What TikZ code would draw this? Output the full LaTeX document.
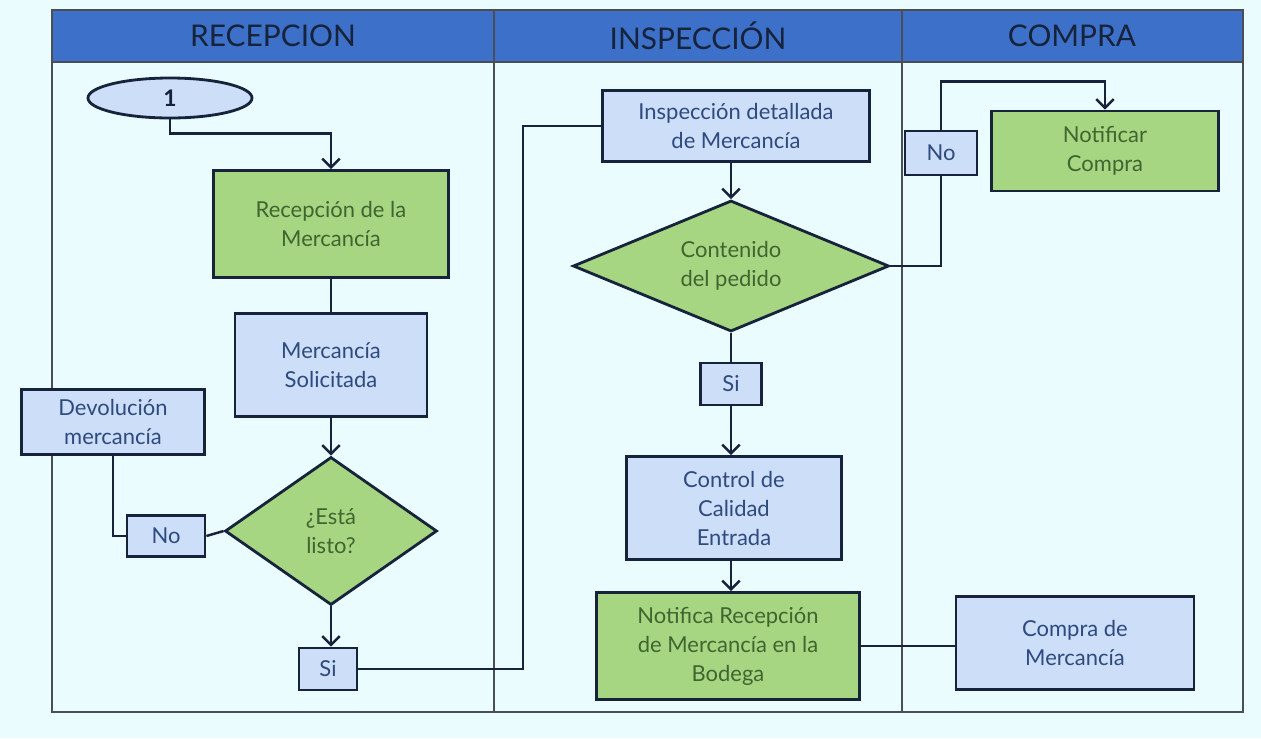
\documentclass[tikz,border=0pt]{standalone}
\usepackage{fontspec}
\setmainfont{Lato}
\usetikzlibrary{shapes.geometric,arrows.meta}
\definecolor{bg}{HTML}{EAFCFD}
\definecolor{head}{HTML}{3D70C9}
\definecolor{navy}{HTML}{16233A}
\definecolor{boxblue}{HTML}{CCDEF8}
\definecolor{boxgreen}{HTML}{A7D682}
\definecolor{txtblue}{HTML}{2E4A7E}
\definecolor{txtgreen}{HTML}{3F6530}
\definecolor{frame}{HTML}{4A4F55}

\begin{document}
\begin{tikzpicture}[x=0.2mm, y=-0.2mm, >={Straight Barb[length=5pt,width=10pt]},
    main/.style = {draw=navy, line width=1.6pt, fill=boxblue, text=txtblue, align=center,
        font=\fontsize{12.5}{16.5}\selectfont, inner sep=2pt},
    act/.style = {main, fill=boxgreen, text=txtgreen},
    dec/.style = {act, diamond, inner sep=0pt},
    lane/.style = {font=\fontsize{17}{20}\selectfont, text=navy},
    link/.style = {draw=navy, line width=1.4pt}]

    \fill[bg] (0,0) rectangle (1261,738);
    \filldraw[fill=head, draw=frame, line width=0.8pt] (52,10) rectangle (1243,62);
    \draw[frame, line width=0.8pt] (52,10) rectangle (1243,712);
    \draw[frame, line width=0.8pt] (494,10) -- (494,712);
    \draw[frame, line width=0.8pt] (902,10) -- (902,712);

    \node[lane] (h1) at (273,36) {RECEPCION};
    \node[lane] (h2) at (698,36) {INSPECCIÓN};
    \node[lane] (h3) at (1072,36) {COMPRA};

    \node[main, ellipse, minimum width=32.8mm, minimum height=8mm, text=navy, font=\bfseries\fontsize{13}{16}\selectfont] (n1) at (170,98) {1};
    \node[act, minimum width=47mm, minimum height=21.4mm] (recep) at (331,224) {Recepción de la\\Mercancía};
    \node[main, minimum width=38.4mm, minimum height=20.6mm] (sol) at (331,365) {Mercancía\\Solicitada};
    \node[main, minimum width=36.6mm, minimum height=13mm] (dev) at (113,422) {Devolución\\mercancía};
    \node[main, minimum width=15.6mm, minimum height=8.2mm] (no1) at (166,536) {No};
    \node[dec, aspect=1.43, minimum width=42.4mm, minimum height=29.6mm] (d1) at (331,531) {¿Está\\listo?};
    \node[main, minimum width=11.6mm, minimum height=8.4mm] (si1) at (328,669) {Si};

    \node[main, minimum width=53.4mm, minimum height=14.2mm] (insp) at (736,126) {Inspección detallada\\de Mercancía};
    \node[dec, aspect=2.4, minimum width=63.2mm, minimum height=26.2mm] (d2) at (731,266) {Contenido\\del pedido};
    \node[main, minimum width=12.2mm, minimum height=8.4mm] (si2) at (731,384) {Si};
    \node[main, minimum width=43mm, minimum height=20.6mm] (ctrl) at (734,508) {Control de\\Calidad\\Entrada};
    \node[act, minimum width=52.6mm, minimum height=21.4mm] (notif) at (728,646) {Notifica Recepción\\de Mercancía en la\\Bodega};

    \node[main, minimum width=14.4mm, minimum height=8.8mm] (no2) at (941,153) {No};
    \node[act, minimum width=45.4mm, minimum height=16mm] (ncomp) at (1105,151) {Notificar\\Compra};
    \node[main, minimum width=47.6mm, minimum height=18.6mm] (comp) at (1075,643) {Compra de\\Mercancía};

    \coordinate (c1) at (523,669);

    \draw[link,->] (n1.south) -- ++(0,14) -| (recep.north);
    \draw[link] (recep.south) -- (sol.north);
    \draw[link,->] (sol.south) -- (d1.north);
    \draw[link] (d1.west) -- (no1.east);
    \draw[link] (no1.west) -| (dev.south);
    \draw[link,->] (d1.south) -- (d1.south |- si1.north);
    \draw[link] (si1.east) -- (c1) |- (insp.west);
    \draw[link,->] (d2.north |- insp.south) -- (d2.north);
    \draw[link] (d2.east) -| (no2.south);
    \draw[link,->] (no2.north) -- ++(0,-48) -| (ncomp.north);
    \draw[link] (d2.south) -- (si2.north);
    \draw[link,->] (si2.south) -- (si2.south |- ctrl.north);
    \draw[link,->] (si2.south |- ctrl.south) -- (si2.south |- notif.north);
    \draw[link] (notif.east) -- (notif.east -| comp.west);

\end{tikzpicture}
\end{document}
